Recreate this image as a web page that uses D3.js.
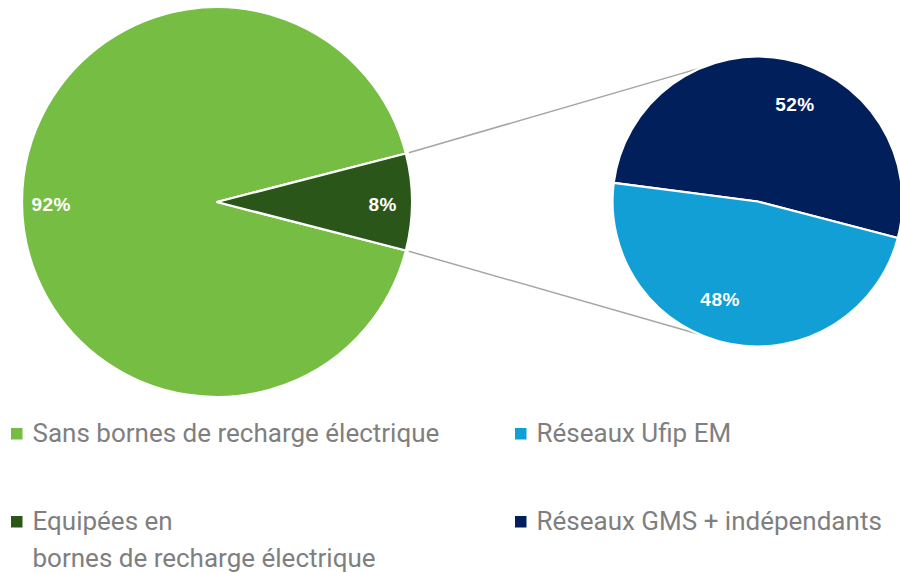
<!DOCTYPE html>
<html>
<head>
<meta charset="utf-8">
<script src="https://cdn.jsdelivr.net/npm/d3@7"></script>
<style>
  html, body { margin: 0; padding: 0; background: #ffffff; }
  svg { display: block; }
</style>
</head>
<body>
<svg id="chart" width="900" height="573"></svg>
<script>
// Stations-service : part équipée en bornes de recharge, puis répartition des stations équipées
const mainCategories = ["Sans bornes de recharge électrique", "Equipées en bornes de recharge électrique"];
const mainValues = [92, 8];
const mainColors = ["#76bd43", "#2a561a"];

const subCategories = ["Réseaux GMS + indépendants", "Réseaux Ufip EM"];
const subValues = [52, 48];
const subColors = ["#01205b", "#119fd6"];

// Legend entries: [label lines, colour], laid out in two columns
const legendLeft = [
  { lines: ["Sans bornes de recharge électrique"], color: mainColors[0] },
  { lines: ["Equipées en", "bornes de recharge électrique"], color: mainColors[1] }
];
const legendRight = [
  { lines: ["Réseaux Ufip EM"], color: subColors[1] },
  { lines: ["Réseaux GMS + indépendants"], color: subColors[0] }
];

const svg = d3.select("#chart");
const deg = Math.PI / 180;

// ---- main pie ----
const main = { cx: 217, cy: 202, r: 195 };
const total = d3.sum(mainValues);
const smallSpan = (mainValues[1] / total) * 2 * Math.PI;
// rotate so the small slice points right (centred on 90°)
const mainStart = Math.PI / 2 + smallSpan / 2;
const mainPie = d3.pie().sort(null).value(d => d)
  .startAngle(mainStart).endAngle(mainStart + 2 * Math.PI);
const mainArcs = mainPie(mainValues);
const mainArc = d3.arc().innerRadius(0).outerRadius(main.r);
const mainLabelArc = d3.arc().innerRadius(main.r * 0.85).outerRadius(main.r * 0.85);

const gMain = svg.append("g").attr("transform", `translate(${main.cx},${main.cy})`);
gMain.selectAll("path").data(mainArcs).join("path")
  .attr("d", mainArc)
  .attr("fill", (d, i) => mainColors[i])
  .attr("stroke", "#ffffff")
  .attr("stroke-width", 2.2)
  .attr("stroke-linejoin", "round");

// ---- secondary pie ----
const sub = { cx: 757.5, cy: 201.5, r: 145 };
const subStart = -82.6 * deg;
const subPie = d3.pie().sort(null).value(d => d)
  .startAngle(subStart).endAngle(subStart + 2 * Math.PI);
const subArcs = subPie(subValues);
const subArc = d3.arc().innerRadius(0).outerRadius(sub.r);

// ---- connector lines between the small slice and the secondary pie ----
const small = mainArcs[1];
const pt = (c, r, a) => [c.cx + r * Math.sin(a), c.cy - r * Math.cos(a)];
const connectors = [
  [pt(main, main.r + 3, small.startAngle), pt(sub, sub.r, -22.6 * deg)],
  [pt(main, main.r + 3, small.endAngle), pt(sub, sub.r, -156.2 * deg)]
];
svg.append("g").selectAll("line").data(connectors).join("line")
  .attr("x1", d => d[0][0]).attr("y1", d => d[0][1])
  .attr("x2", d => d[1][0]).attr("y2", d => d[1][1])
  .attr("stroke", "#a6a6a6")
  .attr("stroke-width", 1.5);

const gSub = svg.append("g").attr("transform", `translate(${sub.cx},${sub.cy})`);
gSub.selectAll("path").data(subArcs).join("path")
  .attr("d", subArc)
  .attr("fill", (d, i) => subColors[i])
  .attr("stroke", "#ffffff")
  .attr("stroke-width", 2.2)
  .attr("stroke-linejoin", "round");

// ---- value labels ----
const pct = v => `${v}%`;
const labelStyle = sel => sel
  .attr("text-anchor", "middle")
  .attr("dy", "0.36em")
  .attr("fill", "#ffffff")
  .attr("font-family", "'Liberation Sans', Arial, sans-serif")
  .attr("font-weight", "bold")
  .attr("font-size", 19)
  .attr("letter-spacing", 0.5);

gMain.selectAll("text").data(mainArcs).join("text")
  .attr("transform", d => { const c = mainLabelArc.centroid(d); return `translate(${c[0]},${c[1] + 2})`; })
  .text(d => pct(d.data))
  .call(labelStyle);

gSub.selectAll("text").data(subArcs).join("text")
  .attr("transform", d => {
    const a = (d.startAngle + d.endAngle) / 2 + 10 * deg;
    const rr = sub.r * 0.72;
    return `translate(${rr * Math.sin(a)},${-rr * Math.cos(a)})`;
  })
  .text(d => pct(d.data))
  .call(labelStyle);

// ---- legend ----
function drawLegend(items, x, rowsY) {
  const g = svg.append("g");
  items.forEach((item, i) => {
    const y0 = rowsY[i];
    g.append("rect")
      .attr("x", x).attr("y", y0 - 14)
      .attr("width", 11.5).attr("height", 11.5)
      .attr("fill", item.color);
    const t = g.append("text")
      .attr("x", x + 21.5).attr("y", y0)
      .attr("fill", "#7f7f7f")
      .attr("font-family", "Roboto, 'Noto Sans', sans-serif")
      .attr("font-size", 26);
    item.lines.forEach((line, j) => {
      t.append("tspan").attr("x", x + 21.5).attr("y", y0 + j * 36.5).text(line);
    });
  });
}
drawLegend(legendLeft, 11, [442, 530]);
drawLegend(legendRight, 515, [442, 530]);
</script>
</body>
</html>
